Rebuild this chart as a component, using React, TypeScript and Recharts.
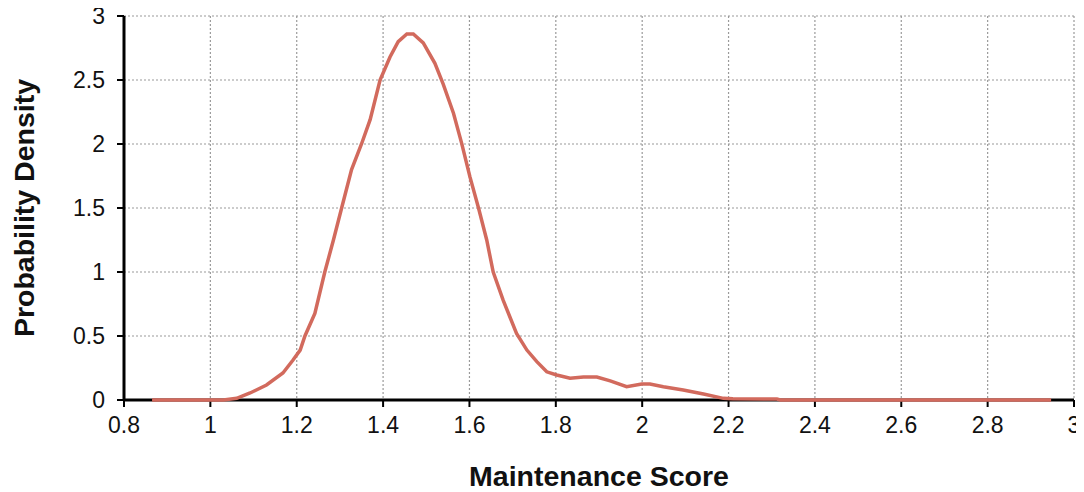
import { LineChart, Line, XAxis, YAxis, CartesianGrid, Label } from "recharts";

// density estimate of maintenance scores
const scores = [0.865, 1.03, 1.061, 1.092, 1.13, 1.168, 1.191, 1.208, 1.219, 1.242, 1.265, 1.285, 1.304, 1.327, 1.35, 1.37, 1.393, 1.416, 1.435, 1.455, 1.47, 1.493, 1.52, 1.539, 1.563, 1.582, 1.601, 1.621, 1.64, 1.655, 1.678, 1.709, 1.733, 1.756, 1.779, 1.802, 1.833, 1.864, 1.895, 1.926, 1.964, 1.999, 2.018, 2.049, 2.095, 2.142, 2.188, 2.21, 2.312, 2.32, 2.947];
const density = [0, 0, 0.013, 0.055, 0.117, 0.211, 0.31, 0.39, 0.5, 0.677, 1.0, 1.25, 1.5, 1.8, 2.0, 2.19, 2.5, 2.68, 2.8, 2.86, 2.86, 2.79, 2.63, 2.47, 2.24, 2.005, 1.745, 1.5, 1.25, 1.0, 0.78, 0.52, 0.39, 0.3, 0.22, 0.195, 0.17, 0.18, 0.18, 0.15, 0.104, 0.125, 0.125, 0.104, 0.078, 0.047, 0.013, 0.01, 0.007, 0, 0];

const xTicks = [0.8, 1, 1.2, 1.4, 1.6, 1.8, 2, 2.2, 2.4, 2.6, 2.8, 3];
const yTicks = [0, 0.5, 1, 1.5, 2, 2.5, 3];

const data = scores.map((x, i) => ({ x, y: density[i] }));

const font = "'Liberation Sans', Arial, sans-serif";
const fmt = (v: number) => String(Math.round(v * 10) / 10);
const titleStyle = { fontSize: 28.5, fontWeight: "bold", fill: "#111", fontFamily: font };

export default function App() {
  return (
    // shifted up by the body margin so the top "3" label has room
    <div style={{ position: "relative", top: -8, width: 1076, height: 492, fontFamily: font }}>
      <LineChart width={1076} height={492} data={data} margin={{ top: 16, right: 10, left: 0, bottom: 4 }}>
        <CartesianGrid stroke="#9a9a9a" strokeDasharray="2 2" strokeWidth={1.2} />
        <XAxis
          dataKey="x"
          type="number"
          domain={[0.8, 3]}
          ticks={xTicks}
          tickFormatter={fmt}
          height={88}
          tickSize={7}
          tickMargin={10}
          axisLine={{ stroke: "#000", strokeWidth: 3 }}
          tickLine={{ stroke: "#000", strokeWidth: 2 }}
          tick={{ fill: "#111", fontSize: 23, fontFamily: font }}
          interval={0}
          allowDataOverflow
        >
          <Label value="Maintenance Score" position="insideBottom" offset={2} style={titleStyle} />
        </XAxis>
        <YAxis
          type="number"
          domain={[0, 3]}
          ticks={yTicks}
          tickFormatter={fmt}
          width={116}
          tickSize={7}
          tickMargin={12}
          axisLine={{ stroke: "#000", strokeWidth: 3 }}
          tickLine={{ stroke: "#000", strokeWidth: 2 }}
          tick={{ fill: "#111", fontSize: 23, fontFamily: font }}
          interval={0}
        >
          <Label value="Probability Density" angle={-90} position="insideLeft" offset={16} style={{ ...titleStyle, textAnchor: "middle" }} />
        </YAxis>
        <Line dataKey="y" type="linear" stroke="#d26a5d" strokeWidth={3.5} dot={false} isAnimationActive={false} zIndex={600} />
      </LineChart>
    </div>
  );
}
